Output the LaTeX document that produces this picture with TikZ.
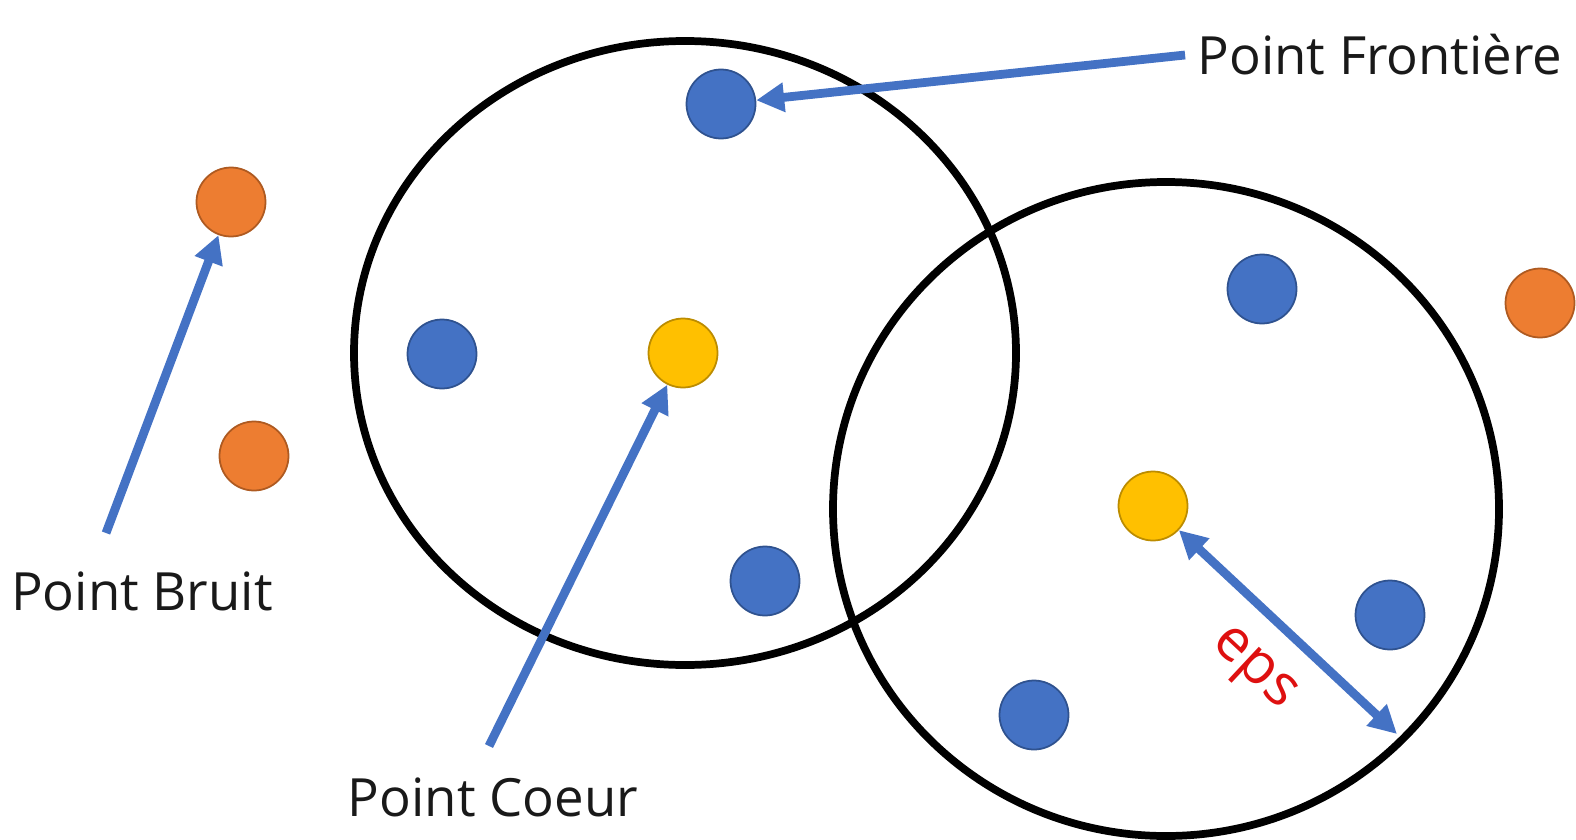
\documentclass[tikz,border=0pt]{standalone}
\usepackage{xcolor}
\usepackage{tikz}
\usepackage{fontspec}
\setmainfont{Open Sans}
\usetikzlibrary{shapes,arrows,positioning,calc,arrows.meta}

\definecolor{ptblue}{RGB}{68,114,196}
\definecolor{ptblueline}{RGB}{47,82,143}
\definecolor{ptorange}{RGB}{237,125,49}
\definecolor{ptorangeline}{RGB}{174,90,33}
\definecolor{ptyellow}{RGB}{255,192,0}
\definecolor{ptyellowline}{RGB}{188,140,0}
\definecolor{epsred}{RGB}{222,16,16}

\tikzset{
  dot/.style={circle, minimum size=6.9mm, inner sep=0pt, line width=0.5pt},
  border/.style={dot, fill=ptblue, draw=ptblueline},
  noise/.style={dot, fill=ptorange, draw=ptorangeline},
  core/.style={dot, fill=ptyellow, draw=ptyellowline},
  pointer/.style={draw=ptblue, line width=2.5pt, -{Triangle[length=2.8mm,width=2.8mm]}},
  label/.style={font=\fontsize{15}{18}\selectfont, text=black!90}
}

\begin{document}
\begin{tikzpicture}
    \useasboundingbox (0,0) rectangle (15.76,8.39);

    % Neighbourhoods (eps)
    \draw [line width=2.2pt] (6.85,4.86) ellipse (3.31cm and 3.12cm);
    \draw [line width=2.2pt] (11.66,3.30) ellipse (3.33cm and 3.27cm);

    % Points
    \node [border] (b1) at (7.21,7.35) {};
    \node [border] (b2) at (4.42,4.85) {};
    \node [border] (b3) at (7.65,2.58) {};
    \node [border] (b4) at (12.62,5.50) {};
    \node [border] (b5) at (13.90,2.24) {};
    \node [border] (b6) at (10.34,1.24) {};
    \node [core] (c1) at (6.83,4.86) {};
    \node [core] (c2) at (11.53,3.33) {};
    \node [noise] (n1) at (2.31,6.37) {};
    \node [noise] (n2) at (2.54,3.83) {};
    \node [noise] (n3) at (15.40,5.36) {};

    % Labels
    \node [label] (lfront) at (13.80,7.84) {Point Frontière};
    \node [label] (lbruit) at (1.42,2.48) {Point Bruit};
    \node [label] (lcoeur) at (4.93,0.42) {Point Coeur};

    % Arrows
    \coordinate (sbruit) at (1.06,3.06);
    \coordinate (scoeur) at (4.89,0.93);
    \coordinate (reps) at (13.97,1.05);
    \draw [pointer] (lfront.west) -- (b1);
    \draw [pointer] (sbruit) -- (n1);
    \draw [pointer] (scoeur) -- (c1);
    \draw [pointer, {Triangle[length=2.8mm,width=2.8mm]}-{Triangle[length=2.8mm,width=2.8mm]}] (c2) -- (reps)
        node [midway, below, sloped, yshift=-4pt, font=\fontsize{16.5}{20}\selectfont, text=epsred] (leps) {eps};
\end{tikzpicture}
\end{document}
